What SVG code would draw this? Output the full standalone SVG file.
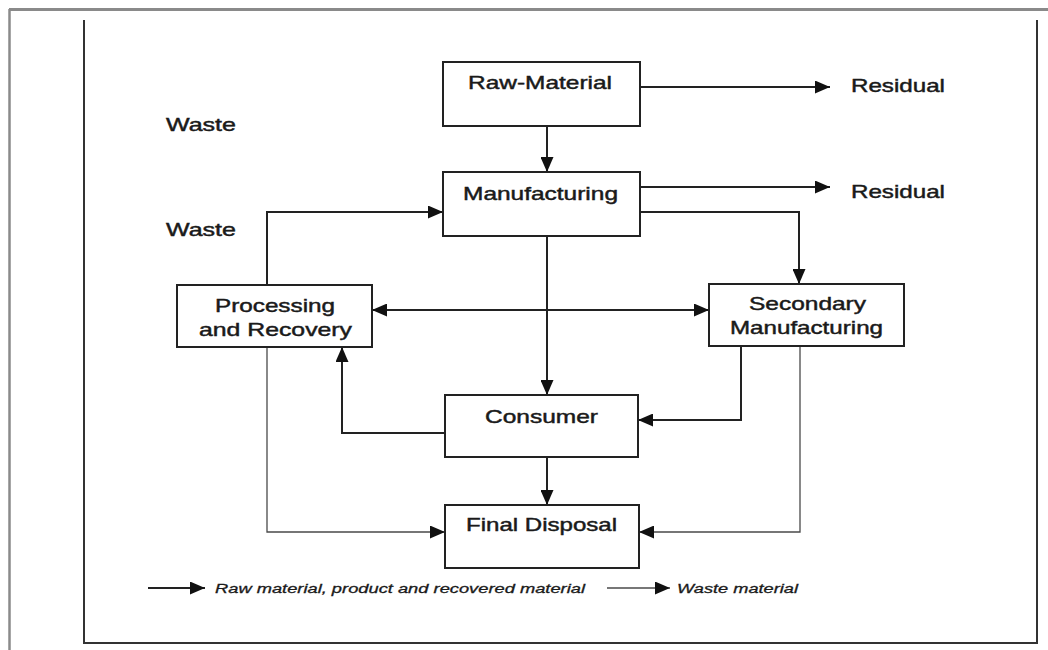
<svg xmlns="http://www.w3.org/2000/svg" width="1048" height="650" viewBox="0 0 1048 650">
<style>
.box{fill:#fff;stroke:#222;stroke-width:2}
.lbl{font-family:"Liberation Sans",Arial,sans-serif;font-size:18.5px;fill:#1a1a1a;stroke:#1a1a1a;stroke-width:0.45;text-anchor:start}
.main{fill:none;stroke:#222;stroke-width:2}
.waste{fill:none;stroke:#4a4a4a;stroke-width:1.3}
.leg{font-family:"Liberation Sans",Arial,sans-serif;font-size:13px;font-style:italic;fill:#1a1a1a;stroke:#1a1a1a;stroke-width:0.3}
</style>
<defs>
<marker id="ah" markerUnits="userSpaceOnUse" markerWidth="15" markerHeight="13" refX="15" refY="6.5" orient="auto-start-reverse">
<path d="M0,0 L15,6.5 L0,13 z" fill="#111"/>
</marker>
</defs>
<rect width="1048" height="650" fill="#fff"/>
<g id="frame">
<line x1="9" y1="9.5" x2="1048" y2="9.5" stroke="#8a8a8a" stroke-width="3"/>
<line x1="9.5" y1="9" x2="9.5" y2="650" stroke="#8a8a8a" stroke-width="2.5"/>
<path d="M84,20 V643 H1037 V20" fill="none" stroke="#333" stroke-width="2"/>
</g>
<g id="connectors">
<path class="main" d="M640,87 H830" marker-end="url(#ah)"/>
<path class="main" d="M547,126 V172" marker-end="url(#ah)"/>
<path class="main" d="M640,187 H830" marker-end="url(#ah)"/>
<path class="main" d="M640,212 H799 V284" marker-end="url(#ah)"/>
<path class="main" d="M267,285 V212 H443" marker-end="url(#ah)"/>
<path class="main" d="M372,310 H709" marker-start="url(#ah)" marker-end="url(#ah)"/>
<path class="main" d="M547,236 V395" marker-end="url(#ah)"/>
<path class="main" d="M741,346 V420 H638" marker-end="url(#ah)"/>
<path class="main" d="M445,433 H342 V347" marker-end="url(#ah)"/>
<path class="main" d="M547,457 V505" marker-end="url(#ah)"/>
<path class="waste" d="M267,347 V532 H445" marker-end="url(#ah)"/>
<path class="waste" d="M800,346 V532 H639" marker-end="url(#ah)"/>
</g>
<g id="raw-material">
<rect class="box" x="443" y="62" width="197" height="64"/>
<text class="lbl" x="468" y="89" textLength="144" lengthAdjust="spacingAndGlyphs">Raw-Material</text>
</g>
<g id="residual-1">
<text class="lbl" x="851" y="92" textLength="94" lengthAdjust="spacingAndGlyphs">Residual</text>
</g>
<g id="manufacturing">
<rect class="box" x="443" y="172" width="197" height="64"/>
<text class="lbl" x="463" y="200" textLength="155" lengthAdjust="spacingAndGlyphs">Manufacturing</text>
</g>
<g id="residual-2">
<text class="lbl" x="851" y="198" textLength="94" lengthAdjust="spacingAndGlyphs">Residual</text>
</g>
<g id="waste-1">
<text class="lbl" x="166" y="131" textLength="70" lengthAdjust="spacingAndGlyphs">Waste</text>
</g>
<g id="waste-2">
<text class="lbl" x="166" y="236" textLength="70" lengthAdjust="spacingAndGlyphs">Waste</text>
</g>
<g id="processing-recovery">
<rect class="box" x="177" y="285" width="195" height="62"/>
<text class="lbl" x="215" y="312" textLength="120" lengthAdjust="spacingAndGlyphs">Processing</text>
<text class="lbl" x="199" y="336" textLength="153" lengthAdjust="spacingAndGlyphs">and Recovery</text>
</g>
<g id="secondary-manufacturing">
<rect class="box" x="709" y="284" width="195" height="62"/>
<text class="lbl" x="749" y="310" textLength="117" lengthAdjust="spacingAndGlyphs">Secondary</text>
<text class="lbl" x="730" y="334" textLength="153" lengthAdjust="spacingAndGlyphs">Manufacturing</text>
</g>
<g id="consumer">
<rect class="box" x="445" y="395" width="193" height="62"/>
<text class="lbl" x="485" y="423" textLength="113" lengthAdjust="spacingAndGlyphs">Consumer</text>
</g>
<g id="final-disposal">
<rect class="box" x="445" y="505" width="194" height="63"/>
<text class="lbl" x="466" y="531" textLength="151" lengthAdjust="spacingAndGlyphs">Final Disposal</text>
</g>
<g id="legend">
<path class="main" d="M148,588 H205" marker-end="url(#ah)"/>
<text class="leg" x="215" y="593" textLength="370" lengthAdjust="spacingAndGlyphs">Raw material, product and recovered material</text>
<path class="waste" d="M607,588 H670" marker-end="url(#ah)"/>
<text class="leg" x="677" y="593" textLength="121" lengthAdjust="spacingAndGlyphs">Waste material</text>
</g>
</svg>
